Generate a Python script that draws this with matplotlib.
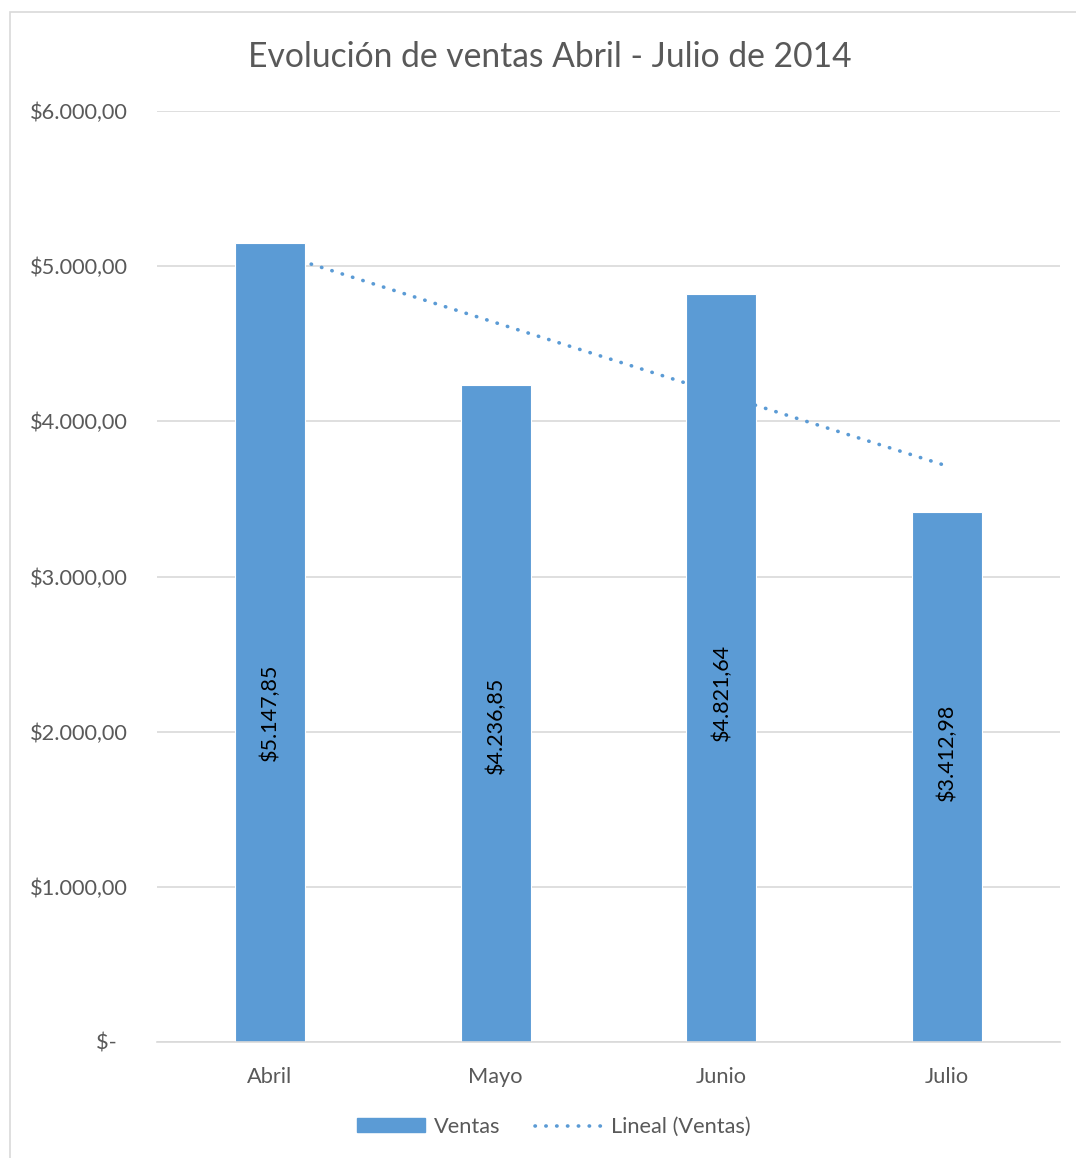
import numpy as np
import matplotlib.pyplot as plt
from matplotlib.patches import Rectangle
from matplotlib.lines import Line2D

meses = ["Abril", "Mayo", "Junio", "Julio"]
ventas = [5147.85, 4236.85, 4821.64, 3412.98]
etiquetas = ["$5.147,85", "$4.236,85", "$4.821,64", "$3.412,98"]
# altura (en $) donde esta el centro de cada etiqueta en la imagen original
etiqueta_y = [2125, 2040, 2250, 1865]
yticks = [0, 1000, 2000, 3000, 4000, 5000, 6000]
ytick_labels = ["$-  ", "$1.000,00", "$2.000,00", "$3.000,00", "$4.000,00", "$5.000,00", "$6.000,00"]

azul = "#5B9BD5"
gris_txt = "#595959"
plt.rcParams['font.family'] = ['Lato', 'DejaVu Sans']

fig = plt.figure(figsize=(10.76, 11.58), dpi=100)
ax = fig.add_axes([157/1076, 116/1158, 903/1076, 931/1158])

x = np.arange(len(meses))
ax.bar(x, ventas, width=0.31, color=azul, edgecolor="white", linewidth=0.8, zorder=2)

# linea de tendencia lineal
m, b = np.polyfit(x, ventas, 1)
ax.plot(x, m * x + b, color=azul, linewidth=2.6, linestyle=(0, (0.1, 2.9)),
        dash_capstyle="round", zorder=3)

for xi, yl, lab in zip(x, etiqueta_y, etiquetas):
    ax.text(xi, yl, lab, rotation=90, ha="center", va="center",
            fontsize=15.5, color="black", zorder=4)

ax.set_xlim(-0.5, 3.5)
ax.set_ylim(0, 6000)
ax.set_yticks(yticks)
ax.set_yticklabels(ytick_labels)
ax.set_xticks(x)
ax.set_xticklabels(meses)
ax.tick_params(axis="both", length=0, labelsize=15.7, labelcolor=gris_txt)
ax.tick_params(axis="y", pad=21)
ax.tick_params(axis="x", pad=18)
ax.grid(axis="y", color="#D9D9D9", linewidth=1.2, zorder=0)
ax.set_axisbelow(True)
for s in ["top", "right", "left"]:
    ax.spines[s].set_visible(False)
ax.spines["bottom"].set_color("#D9D9D9")
ax.spines["bottom"].set_linewidth(1.2)

fig.text(0.511, 1 - 57/1158, "Evolución de ventas Abril - Julio de 2014",
         ha="center", va="center", fontsize=24.2, color=gris_txt)

handles = [Rectangle((0, 0), 1, 1, color=azul),
           Line2D([0], [0], color=azul, linewidth=2.6, linestyle=(0, (0.1, 2.9)),
                  dash_capstyle="round")]
leg = fig.legend(handles, ["Ventas", "Lineal (Ventas)"], loc="center",
                 bbox_to_anchor=(0.515, 1 - 1127/1158), ncol=2, frameon=False,
                 fontsize=15.7, handlelength=3.1, handleheight=0.6, columnspacing=1.6,
                 handletextpad=0.4)
for t in leg.get_texts():
    t.set_color(gris_txt)

fig.add_artist(Rectangle((10/1076, -0.01), 1.1, 1 - 12/1158 + 0.01,
                         transform=fig.transFigure, fill=False,
                         edgecolor="#D9D9D9", linewidth=1.2))

fig.savefig("out.png", dpi=100)
